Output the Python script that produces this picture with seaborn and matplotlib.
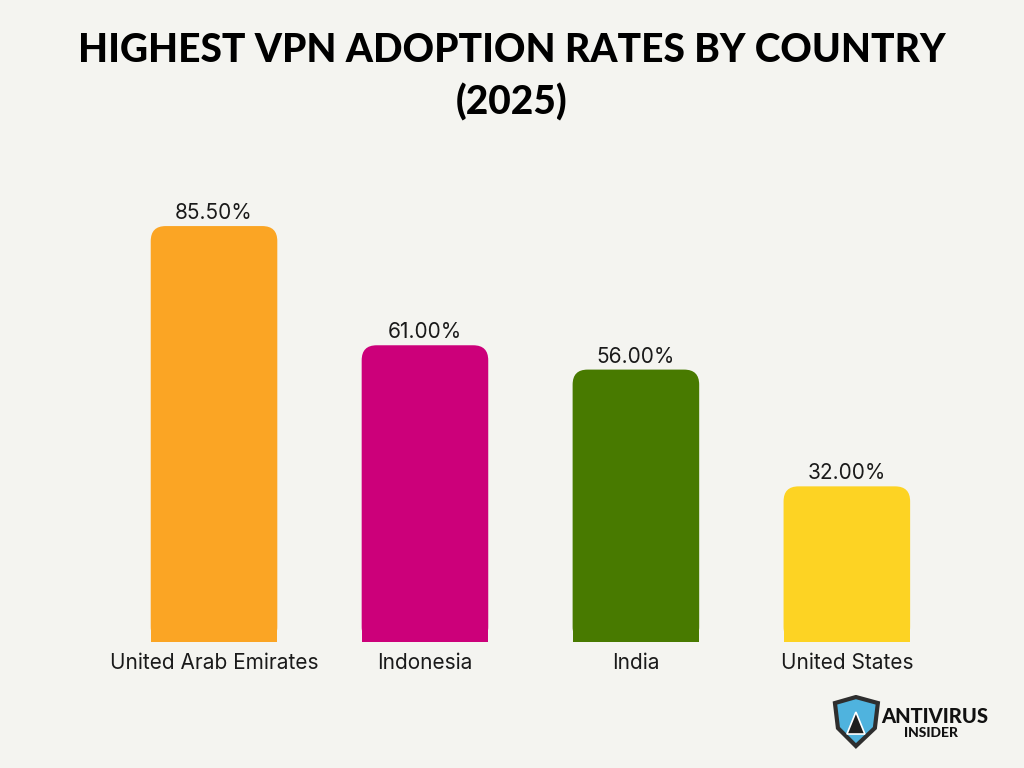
import matplotlib
matplotlib.use("Agg")
import matplotlib.pyplot as plt
import seaborn as sns
import pandas as pd
from matplotlib.patches import FancyBboxPatch, Rectangle, Polygon

countries = ["United Arab Emirates", "Indonesia", "India", "United States"]
rates = [85.5, 61.0, 56.0, 32.0]
bar_colors = ["#FBA524", "#CC007A", "#487A00", "#FDD323"]
title = "HIGHEST VPN ADOPTION RATES BY COUNTRY\n(2025)"

bg = "#F4F4F0"
sns.set_style("white")
plt.rcParams["font.family"] = ["Inter", "DejaVu Sans"]

df = pd.DataFrame({"country": countries, "rate": rates})

fig = plt.figure(figsize=(10.24, 7.68), dpi=100, facecolor=bg)
ax = fig.add_axes([0.106, 0.164, 0.824, 0.6335])
ax.set_facecolor(bg)

sns.barplot(data=df, x="country", y="rate", hue="country", palette=bar_colors,
            width=0.6, legend=False, ax=ax)
ax.set_xlim(-0.5, 3.5)
ax.set_ylim(0, 100)

# swap plain bars for ones with rounded top corners
r = 0.071
aspect = 43.4
for p, val, col in zip(ax.patches, rates, bar_colors):
    x, w, h = p.get_x(), p.get_width(), p.get_height()
    p.set_visible(False)
    ax.add_patch(FancyBboxPatch((x, 0), w, h, boxstyle=f"round,pad=0,rounding_size={r}",
                                mutation_aspect=aspect, facecolor=col, edgecolor="none"))
    ax.add_patch(Rectangle((x, 0), w, h / 2, facecolor=col, edgecolor="none"))
    ax.text(x + w / 2, h + 0.6, f"{val:.2f}%", ha="center", va="bottom",
            fontsize=15, color="#1a1a1a")

ax.set_xlabel("")
ax.set_ylabel("")
ax.set_yticks([])
ax.tick_params(axis="x", length=0, pad=8, labelsize=15, labelcolor="#1a1a1a")
sns.despine(ax=ax, left=True, bottom=True)

fig.text(0.5, 0.900, title, ha="center", va="center", fontsize=28,
         fontweight="black", family=["Lato", "DejaVu Sans"], linespacing=1.47,
         color="black")

# logo in the lower right corner
la = fig.add_axes([0.8105, 0.0234, 0.156, 0.0716])
la.set_xlim(0, 160)
la.set_ylim(0, 55)
la.axis("off")
la.add_patch(Polygon([[5, 47], [26, 53], [48, 47], [45, 22], [26, 4], [8, 22]],
                     closed=True, facecolor="#4FB3DE", edgecolor="#2e2e2e", lw=3))
la.add_patch(Polygon([[17, 16], [26, 38], [35, 16]], closed=True,
                     facecolor="#1e1e1e", edgecolor="white", lw=1.2))
la.text(51, 34, "ANTIVIRUS", fontsize=14.5, fontweight="black",
        family=["Lato", "DejaVu Sans"], va="center", ha="left", color="#111111")
la.text(101, 17, "INSIDER", fontsize=10, fontweight="black",
        family=["Lato", "DejaVu Sans"], va="center", ha="center", color="#111111")

fig.savefig("out.png", dpi=100, facecolor=bg)
